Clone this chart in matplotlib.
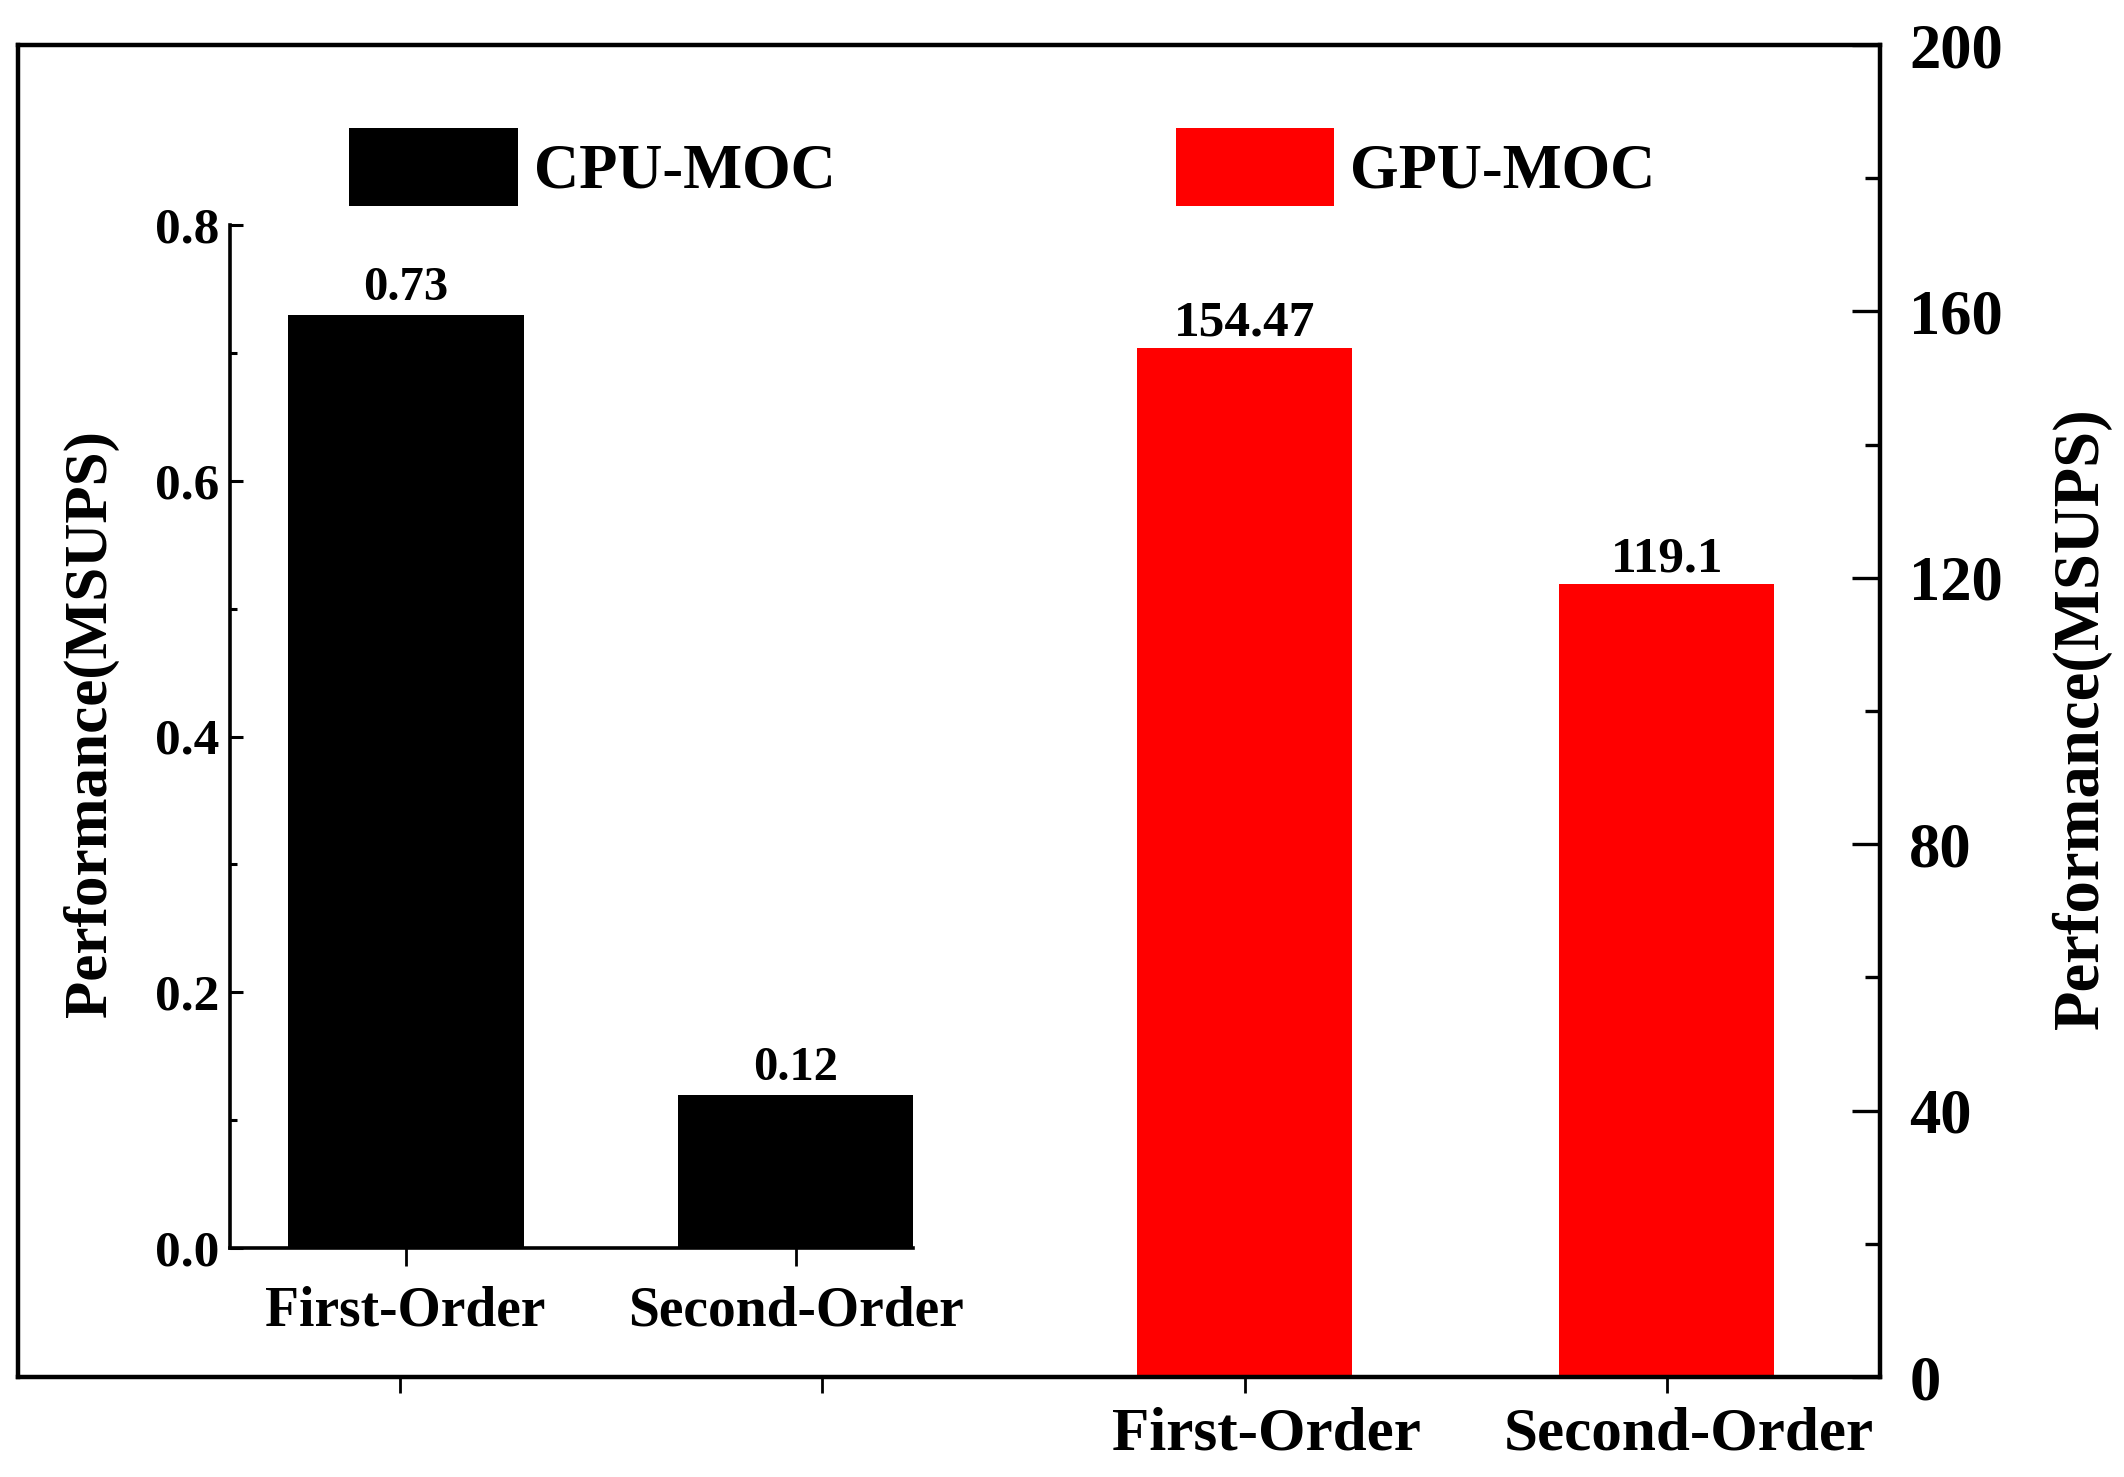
import matplotlib
matplotlib.use("Agg")
import matplotlib.pyplot as plt
from matplotlib.patches import Patch
from matplotlib.ticker import MultipleLocator
from matplotlib.transforms import ScaledTranslation

# ---- data ----
categories = ["First-Order", "Second-Order"]
cpu_values = [0.73, 0.12]
gpu_values = [154.47, 119.1]
cpu_label = "CPU-MOC"
gpu_label = "GPU-MOC"
ylabel = "Performance(MSUPS)"
cpu_yticks = [0.0, 0.2, 0.4, 0.6, 0.8]
gpu_yticks = [0, 40, 80, 120, 160, 200]

plt.rcParams['font.family'] = ['Liberation Serif', 'DejaVu Serif']
plt.rcParams['font.weight'] = 'bold'

W, H = 2124, 1477
fig = plt.figure(figsize=(W / 100, H / 100), dpi=100)

def rect(l, t, r, b):
    return [l / W, 1 - b / H, (r - l) / W, (b - t) / H]

# ---- outer axes (GPU, right y axis) ----
ax_out = fig.add_axes(rect(18, 45, 1880, 1377))
gx = [2, 3]
ax_out.bar(gx, gpu_values, width=0.51, color="#ff0000", zorder=2)
ax_out.set_xlim(-0.905, 3.505)
ax_out.set_ylim(0, 200)
ax_out.set_xticks([0, 1, 2, 3])
ax_out.set_xticklabels(["", ""] + categories, fontsize=44, fontweight='bold')
ax_out.yaxis.tick_right()
ax_out.yaxis.set_label_position("right")
ax_out.set_yticks(gpu_yticks)
ax_out.set_yticklabels([str(v) for v in gpu_yticks], fontsize=45, fontweight='bold')
ax_out.yaxis.set_minor_locator(MultipleLocator(20))
ax_out.tick_params(axis='y', which='major', direction='in', length=20, width=2.4, pad=21, right=True, left=False)
ax_out.tick_params(axis='y', which='minor', direction='in', length=11, width=2.4, right=True, left=False)
ax_out.tick_params(axis='x', which='major', direction='out', length=11.5, width=2.0, pad=10)
shift = ScaledTranslation(22 / 100, 0, fig.dpi_scale_trans)
for lab in ax_out.xaxis.get_majorticklabels():
    lab.set_transform(lab.get_transform() + shift)
for s in ax_out.spines.values():
    s.set_linewidth(3.2)
ax_out.set_ylabel(ylabel, fontsize=46.5, fontweight='bold')
ax_out.yaxis.set_label_coords(1.0924, 0.4947)
ax_out.bar_label(ax_out.containers[0], labels=[f"{v:g}" for v in gpu_values],
                 padding=1, fontsize=37, fontweight='bold')

# ---- inner axes (CPU, left y axis) ----
ax_in = fig.add_axes(rect(230, 225, 913, 1248))
ax_in.patch.set_alpha(0)
cx = [0, 1]
ax_in.bar(cx, cpu_values, width=0.605, color="black", zorder=2)
ax_in.set_xlim(-0.45, 1.30)
ax_in.set_ylim(0, 0.8)
ax_in.set_xticks(cx)
ax_in.set_xticklabels(categories, fontsize=40, fontweight='bold')
ax_in.set_yticks(cpu_yticks)
ax_in.set_yticklabels([f"{v:.1f}" for v in cpu_yticks], fontsize=37, fontweight='bold')
ax_in.yaxis.set_minor_locator(MultipleLocator(0.1))
ax_in.tick_params(axis='y', which='major', direction='in', length=9, width=2.2, pad=8)
ax_in.tick_params(axis='y', which='minor', direction='in', length=5, width=2.2)
ax_in.tick_params(axis='x', which='major', direction='out', length=13, width=2.0, pad=14)
ax_in.spines['top'].set_visible(False)
ax_in.spines['right'].set_visible(False)
for s in ['left', 'bottom']:
    ax_in.spines[s].set_linewidth(2.6)
ax_in.set_ylabel(ylabel, fontsize=44, fontweight='bold')
ax_in.yaxis.set_label_coords(-0.1625, 0.513)
ax_in.bar_label(ax_in.containers[0], labels=[f"{v:g}" for v in cpu_values],
                padding=3, fontsize=35, fontweight='bold')

# ---- legends ----
fs_leg = 45
em = fs_leg * 100 / 72
hh = (78 / em - 0.245) / 0.65
leg1 = ax_in.legend(handles=[Patch(facecolor='black', edgecolor='none', label=cpu_label)],
                    loc='center left', bbox_to_anchor=(349 / W, 1 - 167 / H),
                    bbox_transform=fig.transFigure, frameon=False,
                    borderpad=0, borderaxespad=0, handlelength=169 / em,
                    handleheight=hh, handletextpad=16 / em,
                    prop={'size': fs_leg, 'weight': 'bold'})
leg2 = ax_out.legend(handles=[Patch(facecolor='#ff0000', edgecolor='none', label=gpu_label)],
                     loc='center left', bbox_to_anchor=(1176 / W, 1 - 167 / H),
                     bbox_transform=fig.transFigure, frameon=False,
                     borderpad=0, borderaxespad=0, handlelength=158 / em,
                     handleheight=hh, handletextpad=16 / em,
                     prop={'size': fs_leg, 'weight': 'bold'})

fig.savefig("out.png", dpi=100)
